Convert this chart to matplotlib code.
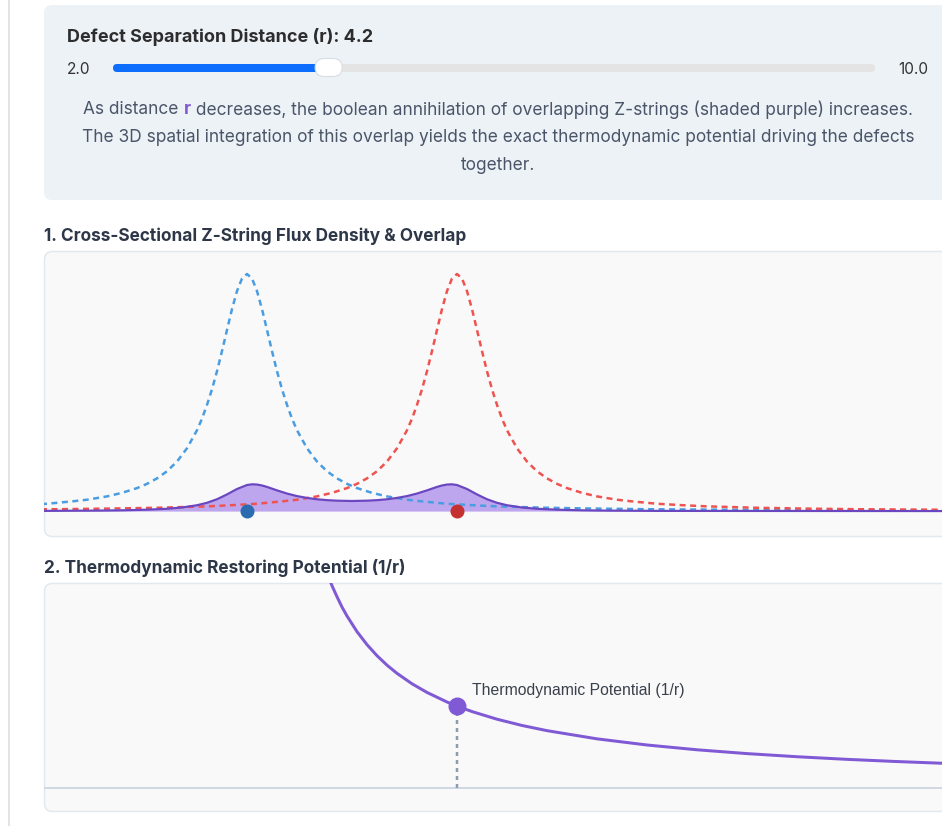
import matplotlib
matplotlib.use("Agg")
import matplotlib.pyplot as plt
from matplotlib.patches import FancyBboxPatch

# ---------------- data ----------------
separation_r = 4.2
slider_min, slider_max = 2.0, 10.0
slider_labels = ["2.0", "10.0"]
defect_positions = [0.0, 4.2]

# flux density profile of one Z-string vs distance from its core
flux_offsets = [0, 0.1, 0.2, 0.3, 0.4, 0.5, 0.6, 0.7, 0.8, 0.9, 1.0, 1.2, 1.4, 1.6,
                1.8, 2.0, 2.2, 2.5, 2.8, 3.2, 3.5, 4.0, 4.5, 5.0, 6.0, 7.0, 8.0,
                10.0, 12.0, 14.0, 18.0]
flux_density = [1.0, 0.981, 0.928, 0.852, 0.764, 0.675, 0.590, 0.514, 0.448, 0.390,
                0.341, 0.265, 0.209, 0.168, 0.138, 0.115, 0.097, 0.077, 0.062, 0.048,
                0.041, 0.031, 0.025, 0.020, 0.014, 0.0105, 0.008, 0.0052, 0.0036,
                0.0026, 0.0016]

# overlap (annihilation) density
overlap_x = [-4.1, -3.0, -2.5, -2.0, -1.6, -1.3, -1.0, -0.8, -0.6, -0.4, -0.2, 0.0,
             0.1, 0.2, 0.3, 0.4, 0.6, 0.8, 1.0, 1.2, 1.4, 1.6, 1.8, 2.1,
             2.4, 2.6, 2.8, 3.0, 3.2, 3.4, 3.6, 3.8, 3.9, 4.0, 4.1, 4.2, 4.4, 4.6,
             4.8, 5.0, 5.2, 5.5, 5.8, 6.2, 6.7, 7.2, 8.2, 14.0]
overlap_y = [0.0009, 0.0021, 0.0034, 0.0059, 0.0098, 0.0152, 0.0247, 0.035, 0.050,
             0.0703, 0.0932, 0.110, 0.113, 0.112, 0.108, 0.102, 0.0874, 0.074, 0.0633,
             0.0556, 0.0499, 0.0461, 0.0439, 0.0426,
             0.0439, 0.0461, 0.0499, 0.0556, 0.0633, 0.074, 0.0874, 0.102, 0.108,
             0.112, 0.113, 0.110, 0.0932, 0.0703, 0.050, 0.035, 0.0247, 0.0152,
             0.0098, 0.0059, 0.0034, 0.0021, 0.0009, 0.0002]

# thermodynamic potential 1/r
potential_r = [1.6, 1.65, 1.7, 1.8, 1.9, 2.0, 2.2, 2.4, 2.6, 2.8, 3.0, 3.3, 3.6, 4.0,
               4.2, 4.5, 5.0, 5.5, 6.0, 7.0, 8.0, 9.0, 10.0, 11.0, 12.0, 13.0, 14.0]
potential_v = [0.625, 0.606, 0.588, 0.556, 0.526, 0.5, 0.4545, 0.4167, 0.3846, 0.3571,
               0.3333, 0.3030, 0.2778, 0.25, 0.2381, 0.2222, 0.2, 0.1818, 0.1667,
               0.1429, 0.125, 0.1111, 0.1, 0.0909, 0.0833, 0.0769, 0.0714]

title_text = "Defect Separation Distance (r): 4.2"
desc_line1 = ["As distance ", "r", " decreases, the boolean annihilation of overlapping Z-strings (shaded purple) increases."]
desc_line2 = "The 3D spatial integration of this overlap yields the exact thermodynamic potential driving the defects"
desc_line3 = "together."
section1 = "1. Cross-Sectional Z-String Flux Density & Overlap"
section2 = "2. Thermodynamic Restoring Potential (1/r)"
potential_label = "Thermodynamic Potential (1/r)"

# ---------------- figure ----------------
plt.rcParams['lines.scale_dashes'] = False
W, H = 942, 826
PT = 72 / 100.0  # points per pixel
fig = plt.figure(figsize=(W / 100, H / 100), dpi=100)
fig.patch.set_facecolor('white')

bg = fig.add_axes([0, 0, 1, 1])
bg.set_xlim(0, W)
bg.set_ylim(H, 0)
bg.axis('off')

UI = ['Inter', 'DejaVu Sans']

# page left border
bg.plot([9, 9], [0, H], color='#e3e3e3', lw=2 * PT)

# control panel box
bg.add_patch(FancyBboxPatch((44, 5), 940, 195, boxstyle="round,pad=0,rounding_size=8",
                            fc='#edf2f7', ec='none'))
bg.text(67, 37, title_text, fontsize=18 * PT, fontweight='bold', color='#2d2d2d',
        family=UI, va='center', ha='left')
bg.text(67, 70, slider_labels[0], fontsize=15.5 * PT, color='#333333', family=UI,
        va='center', ha='left')
bg.text(928, 70, slider_labels[1], fontsize=15.5 * PT, color='#333333', family=UI,
        va='center', ha='right')

# slider
track_x0, track_x1, thumb_w = 113, 875, 27
bg.add_patch(FancyBboxPatch((track_x0, 64), track_x1 - track_x0, 8,
                            boxstyle="round,pad=0,rounding_size=4", fc='#e4e4e4', ec='none'))
frac = (separation_r - slider_min) / (slider_max - slider_min)
thumb_x = track_x0 + thumb_w / 2 + frac * (track_x1 - track_x0 - thumb_w)
bg.add_patch(FancyBboxPatch((track_x0, 64), thumb_x - track_x0, 8,
                            boxstyle="round,pad=0,rounding_size=4", fc='#0d6efd', ec='none'))
bg.add_patch(FancyBboxPatch((thumb_x - 13.5, 58.5), 27, 18,
                            boxstyle="round,pad=0,rounding_size=9", fc='white',
                            ec='#d9dde3', lw=0.8))

# description text
fig.canvas.draw()
renderer = fig.canvas.get_renderer()
desc_fs = 17.3 * PT
pieces = []
for i, s in enumerate(desc_line1):
    bold = (i == 1)
    t = bg.text(0, 110, s, fontsize=desc_fs, family=UI, va='center', ha='left',
                color='#805ad5' if bold else '#4a5568',
                fontweight='bold' if bold else 'normal')
    pieces.append(t)
widths = [p.get_window_extent(renderer).width for p in pieces]
x = 498 - sum(widths) / 2
for p, w in zip(pieces, widths):
    p.set_x(x)
    x += w
bg.text(498, 138, desc_line2, fontsize=desc_fs, family=UI, va='center', ha='center', color='#4a5568')
bg.text(498, 166, desc_line3, fontsize=desc_fs, family=UI, va='center', ha='center', color='#4a5568')

# section titles
bg.text(44, 236, section1, fontsize=17.2 * PT, fontweight='bold', color='#2d3748',
        family=UI, va='center', ha='left')
bg.text(44, 568, section2, fontsize=17.2 * PT, fontweight='bold', color='#2d3748',
        family=UI, va='center', ha='left')

# chart boxes
for (y0, h) in [(251.5, 285), (583.5, 228)]:
    bg.add_patch(FancyBboxPatch((44.5, y0), 940, h, boxstyle="round,pad=0,rounding_size=8",
                                fc='#f9f9f9', ec='#e2e8f0', lw=1.5 * PT))

XLIM = (-4.06, 13.94)

# ---------------- chart 1 ----------------
ax1 = fig.add_axes([44 / W, (H - 536) / H, 900 / W, 285 / H])
ax1.set_xlim(*XLIM)
ax1.set_ylim(-0.105, 1.097)
ax1.axis('off')
ax1.patch.set_alpha(0)

def profile_xy(center):
    xs = [center - d for d in flux_offsets[::-1]] + [center + d for d in flux_offsets[1:]]
    ys = flux_density[::-1] + flux_density[1:]
    return xs, ys

bx, byv = profile_xy(defect_positions[0])
rx, ryv = profile_xy(defect_positions[1])
ax1.plot(bx, byv, color='#4a9de0', lw=2.5 * PT, dashes=(6 * PT, 4.5 * PT))
ax1.plot(rx, ryv, color='#ef5350', lw=2.5 * PT, dashes=(6 * PT, 4.5 * PT))
ax1.fill_between(overlap_x, 0, overlap_y, color='#9f7aea', alpha=0.65, lw=0)
ax1.plot(overlap_x, overlap_y, color='#6b46c1', lw=2.2 * PT)
ax1.plot([defect_positions[0]], [0], 'o', color='#2b6cb0', ms=14 * PT, mew=0)
ax1.plot([defect_positions[1]], [0], 'o', color='#c53030', ms=14 * PT, mew=0)

# ---------------- chart 2 ----------------
ax2 = fig.add_axes([44 / W, (H - 811) / H, 900 / W, 228 / H])
ax2.set_xlim(*XLIM)
ax2.set_ylim(-23 / 344, 205 / 344)
ax2.axis('off')
ax2.patch.set_alpha(0)
ax2.axhline(0, color='#cfd8e3', lw=2 * PT)
ax2.plot(potential_r, potential_v, color='#805ad5', lw=3 * PT, solid_capstyle='round')
cur_v = potential_v[potential_r.index(separation_r)]
ax2.plot([separation_r, separation_r], [0, cur_v], color='#8f9bb0', lw=2.5 * PT,
         dashes=(4 * PT, 4 * PT))
ax2.plot([separation_r], [cur_v], 'o', color='#805ad5', ms=18 * PT, mew=0)
ax2.annotate(potential_label, xy=(separation_r, cur_v), xytext=(15, 16),
             textcoords='offset pixels', fontsize=15.8 * PT, color='#3a414c',
             family=['Liberation Sans', 'DejaVu Sans'], va='center', ha='left')

fig.savefig('out.png', dpi=100, facecolor='white')
